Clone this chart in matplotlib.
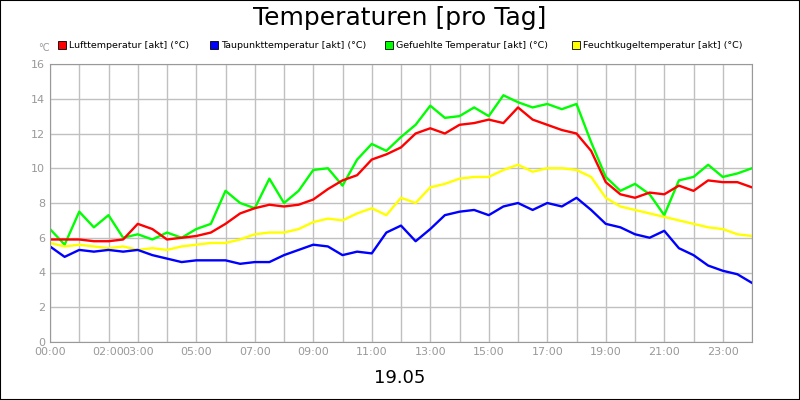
import matplotlib
matplotlib.use("Agg")
import matplotlib.pyplot as plt
import numpy as np

hours = [i * 0.5 for i in range(49)]
luft = [5.9,5.9,5.9,5.8,5.8,5.9,6.8,6.5,5.9,6.0,6.1,6.3,6.8,7.4,7.7,7.9,7.8,7.9,8.2,8.8,9.3,9.6,10.5,10.8,11.2,12.0,12.3,12.0,12.5,12.6,12.8,12.6,13.5,12.8,12.5,12.2,12.0,11.0,9.2,8.5,8.3,8.6,8.5,9.0,8.7,9.3,9.2,9.2,8.9]
taupunkt = [5.5,4.9,5.3,5.2,5.3,5.2,5.3,5.0,4.8,4.6,4.7,4.7,4.7,4.5,4.6,4.6,5.0,5.3,5.6,5.5,5.0,5.2,5.1,6.3,6.7,5.8,6.5,7.3,7.5,7.6,7.3,7.8,8.0,7.6,8.0,7.8,8.3,7.6,6.8,6.6,6.2,6.0,6.4,5.4,5.0,4.4,4.1,3.9,3.4]
gefuehlt = [6.5,5.6,7.5,6.6,7.3,6.0,6.2,5.9,6.3,6.0,6.5,6.8,8.7,8.0,7.7,9.4,8.0,8.7,9.9,10.0,9.0,10.5,11.4,11.0,11.8,12.5,13.6,12.9,13.0,13.5,13.0,14.2,13.8,13.5,13.7,13.4,13.7,11.5,9.5,8.7,9.1,8.5,7.3,9.3,9.5,10.2,9.5,9.7,10.0]
feucht = [5.7,5.5,5.6,5.5,5.4,5.5,5.3,5.4,5.3,5.5,5.6,5.7,5.7,5.9,6.2,6.3,6.3,6.5,6.9,7.1,7.0,7.4,7.7,7.3,8.3,8.0,8.9,9.1,9.4,9.5,9.5,9.9,10.2,9.8,10.0,10.0,9.9,9.5,8.3,7.8,7.6,7.4,7.2,7.0,6.8,6.6,6.5,6.2,6.1]
names = ["Lufttemperatur [akt] (°C)", "Taupunkttemperatur [akt] (°C)",
         "Gefuehlte Temperatur [akt] (°C)", "Feuchtkugeltemperatur [akt] (°C)"]
colors = ["#ff0000", "#0000ff", "#00ff00", "#ffff00"]
tick_hours = [0, 2, 3, 5, 7, 9, 11, 13, 15, 17, 19, 21, 23]
tick_labels = ["00:00", "02:00", "03:00", "05:00", "07:00", "09:00", "11:00",
               "13:00", "15:00", "17:00", "19:00", "21:00", "23:00"]

fig = plt.figure(figsize=(8, 4), dpi=100)
fig.patches.append(plt.Rectangle((0, 0), 1, 1, transform=fig.transFigure,
                                 fill=False, ec="black", lw=1.5))
ax = fig.add_axes([50/800, 58/400, 702/800, 278/400])
order = [2, 3, 1, 0]
for i in order:
    ser = [luft, taupunkt, gefuehlt, feucht][i]
    ax.plot(hours, ser, color=colors[i], lw=1.7)
ax.set_xlim(0, 24)
ax.set_ylim(0, 16)
ax.set_yticks(range(0, 17, 2))
ax.set_xticks(tick_hours)
ax.set_xticklabels(tick_labels)
ax.set_xticks(range(25), minor=True)
ax.grid(True, which="both", axis="x", color="#c0c0c0", lw=1)
ax.grid(True, which="major", axis="y", color="#c0c0c0", lw=1)
ax.set_axisbelow(True)
ax.tick_params(labelsize=8, colors="#999999", labelcolor="#999999", length=0)
ax.tick_params(which="minor", length=0)
for s in ax.spines.values():
    s.set_color("#999999")

fig.text(0.5, 0.955, "Temperaturen [pro Tag]", ha="center", va="center", fontsize=18)
fig.text(38/800, 352/400, "°C", fontsize=7, color="#999999", ha="left", va="center")
xs = [58, 210, 385, 572]
for x, n, c in zip(xs, names, colors):
    fig.patches.append(plt.Rectangle((x/800, (400-49)/400), 8/800, 8/400,
                                     transform=fig.transFigure, fc=c, ec="black", lw=0.6))
    fig.text((x+11)/800, (400-45)/400, n, fontsize=6.8, va="center", ha="left")
fig.text(0.5, 22/400, "19.05", ha="center", va="center", fontsize=13)
fig.savefig("out.png", dpi=100)
